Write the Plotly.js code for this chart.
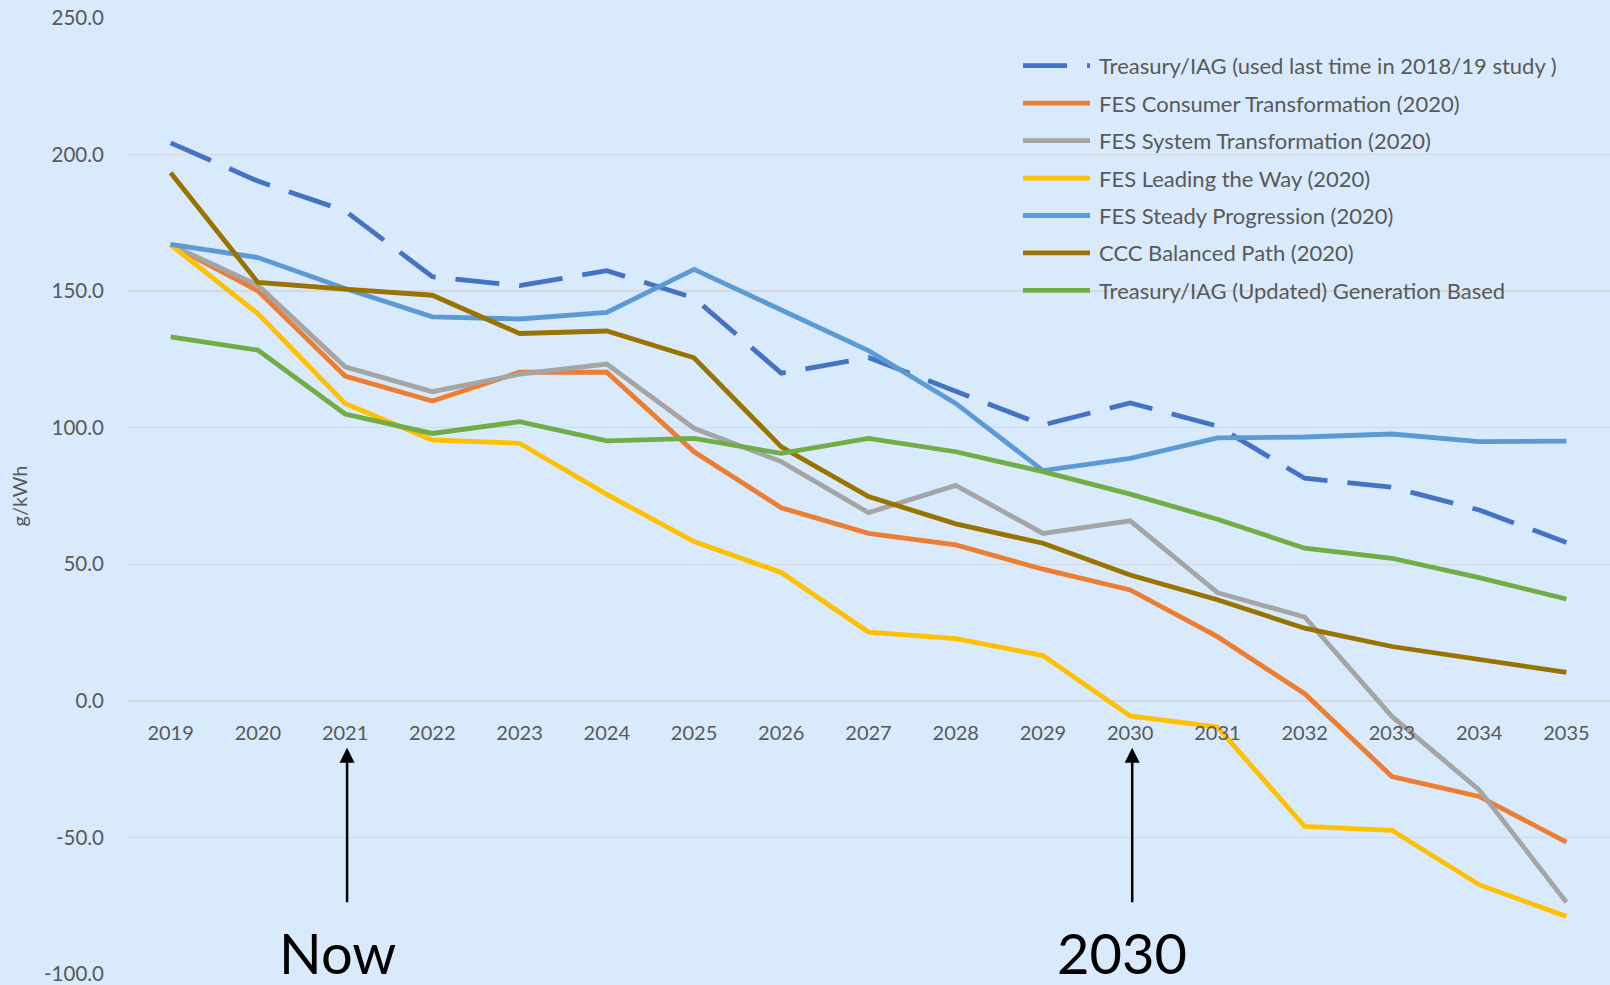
<!DOCTYPE html>
<html>
<head>
<meta charset="utf-8">
<script src="https://cdn.plot.ly/plotly-3.0.1.min.js"></script>
<style>
  html, body { margin: 0; padding: 0; background: #d8eafb; }
  #chart { width: 1610px; height: 985px; }
</style>
</head>
<body>
<div id="chart"></div>
<script>
const years = ['2019','2020','2021','2022','2023','2024','2025','2026','2027','2028','2029','2030','2031','2032','2033','2034','2035'];

const treasuryOld   = [204.3, 190.3, 179.4, 155.3, 152.0, 157.5, 147.5, 120.0, 125.7, 113.5, 101.0, 109.1, 100.6, 81.5, 78.2, 69.9, 58.0];
const consumerTrans = [167.0, 150.1, 118.9, 109.8, 120.3, 120.3, 91.2, 70.7, 61.3, 57.1, 48.2, 40.6, 23.5, 2.6, -27.7, -35.0, -51.7];
const systemTrans   = [167.0, 152.2, 122.3, 113.2, 119.6, 123.3, 99.8, 87.6, 68.9, 78.9, 61.3, 65.9, 39.6, 30.7, -5.7, -32.6, -73.7];
const leadingWay    = [167.0, 141.8, 108.9, 95.5, 94.3, 75.6, 58.3, 47.0, 25.2, 22.8, 16.6, -5.5, -9.6, -46.0, -47.4, -67.3, -78.9];
const steadyProg    = [167.1, 162.3, 151.0, 140.6, 139.8, 142.2, 158.0, 142.9, 128.2, 108.9, 84.3, 88.8, 96.3, 96.6, 97.7, 94.9, 95.1];
const cccBalanced   = [193.3, 153.2, 150.7, 148.5, 134.5, 135.4, 125.6, 93.0, 74.8, 64.8, 57.7, 46.1, 37.0, 26.6, 19.9, 15.0, 10.4];
const treasuryNew   = [133.3, 128.4, 105.0, 97.9, 102.2, 95.2, 96.1, 90.6, 96.1, 91.2, 83.9, 75.7, 66.5, 55.9, 52.2, 45.1, 37.3];

const seriesNames = [
  'Treasury/IAG (used last time in 2018/19 study )',
  'FES Consumer Transformation (2020)',
  'FES System Transformation (2020)',
  'FES Leading the Way (2020)',
  'FES Steady Progression (2020)',
  'CCC Balanced Path (2020)',
  'Treasury/IAG (Updated) Generation Based'
];
const seriesValues = [treasuryOld, consumerTrans, systemTrans, leadingWay, steadyProg, cccBalanced, treasuryNew];
const seriesColors = ['#4472c4', '#ed7d31', '#a5a5a5', '#ffc000', '#5b9bd5', '#997300', '#70ad47'];
const seriesDash = ['44px,20px', 'solid', 'solid', 'solid', 'solid', 'solid', 'solid'];

const yTickVals = [-100, -50, 0, 50, 100, 150, 200, 250];
const yTickText = ['-100.0', '-50.0', '0.0', '50.0', '100.0', '150.0', '200.0', '250.0'];

const markers = [
  {year: '2021', label: 'Now'},
  {year: '2030', label: '2030'}
];

const fontFam = 'Lato, "Open Sans", sans-serif';
const yMin = -100, yMax = 250;

// plot-area geometry (pixels) used to place the custom legend
const W = 1610, H = 985;
const M = {l: 127, r: 0, t: 18, b: 11};
const plotW = W - M.l - M.r, plotH = H - M.t - M.b;
const px2x = px => (px - M.l) / plotW;
const py2y = py => (H - M.b - py) / plotH;

const traces = seriesValues.map((vals, i) => ({
  type: 'scatter',
  mode: 'lines',
  x: years,
  y: vals,
  name: seriesNames[i],
  showlegend: false,
  line: {color: seriesColors[i], width: 4.8, dash: seriesDash[i]},
  hoverinfo: 'x+y+name'
}));

// custom legend (long line samples like the original)
const shapes = [];
const annotations = [];
const legLineX0 = 1023, legLineX1 = 1090, legTextX = 1097, legY0 = 65.7, legStep = 37.45;
seriesNames.forEach((name, i) => {
  const py = legY0 + legStep * i;
  shapes.push({
    type: 'line', xref: 'paper', yref: 'paper',
    x0: px2x(legLineX0), x1: px2x(legLineX1), y0: py2y(py), y1: py2y(py),
    line: {color: seriesColors[i], width: 4.8, dash: seriesDash[i]}
  });
  annotations.push({
    xref: 'paper', yref: 'paper', x: px2x(legTextX), y: py2y(py),
    xanchor: 'left', yanchor: 'middle', showarrow: false,
    text: name,
    font: {family: fontFam, size: 22, color: '#595959'}
  });
});

markers.forEach(m => {
  const xi = years.indexOf(m.year);   // category index on the x axis
  annotations.push({
    x: xi, y: -17.2, xref: 'x', yref: 'y',
    ax: 0, ay: 156, axref: 'pixel', ayref: 'pixel',
    xshift: 2,
    text: '', showarrow: true,
    arrowhead: 2, arrowsize: 1.2, arrowwidth: 2.5, arrowcolor: '#000000',
    standoff: 0
  });
  annotations.push({
    x: xi, y: yMin, xref: 'x', yref: 'y',
    text: m.label, showarrow: false,
    xanchor: 'center', yanchor: 'bottom', yshift: -14, xshift: -8,
    font: {family: fontFam, size: 56, color: '#000000'}
  });
});

const layout = {
  width: W,
  height: H,
  paper_bgcolor: '#d8eafb',
  plot_bgcolor: '#d8eafb',
  margin: M,
  font: {family: fontFam, color: '#595959'},
  showlegend: false,
  xaxis: {
    type: 'category',
    anchor: 'free',
    position: (0 - yMin) / (yMax - yMin),
    side: 'bottom',
    showgrid: false,
    showline: false,
    zeroline: false,
    ticks: '',
    ticklabelstandoff: 18,
    tickfont: {family: fontFam, size: 20, color: '#595959'},
    range: [-0.5, years.length - 0.5],
    automargin: false
  },
  yaxis: {
    range: [yMin, yMax],
    tickvals: yTickVals,
    ticktext: yTickText,
    showgrid: true,
    gridcolor: '#d5d9dd',
    gridwidth: 1.5,
    zeroline: false,
    showline: false,
    ticks: '',
    ticklabelstandoff: 22,
    ticklabeloverflow: 'allow',
    tickfont: {family: fontFam, size: 20.5, color: '#595959'},
    title: {text: 'g/kWh', font: {family: fontFam, size: 20, color: '#595959'}, standoff: 10},
    automargin: false
  },
  shapes: shapes,
  annotations: annotations
};

Plotly.newPlot('chart', traces, layout, {displayModeBar: false, staticPlot: true});
</script>
</body>
</html>
